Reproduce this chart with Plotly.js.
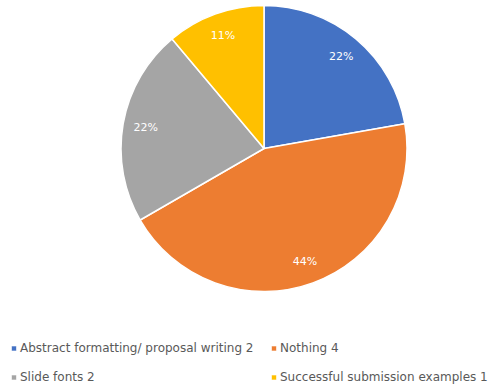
<!DOCTYPE html>
<html><head><meta charset="utf-8">
<script src="https://cdn.plot.ly/plotly-3.0.1.min.js"></script>
<style>html,body{margin:0;padding:0;background:#fff}</style>
</head><body>
<div id="chart" style="width:491px;height:387px"></div>
<script>
const categories = ["Abstract formatting/ proposal writing 2", "Nothing 4", "Slide fonts 2", "Successful submission examples 1"];
const counts = [2, 4, 2, 1];
const colors = ["#4472C4", "#ED7D31", "#A5A5A5", "#FFC000"];

const W = 491, H = 387;
const dom = {x: [121/W, 407/W], y: [1 - 292/H, 1 - 5/H]};
const fill = {
  type: "pie",
  labels: categories,
  values: counts,
  sort: false,
  direction: "clockwise",
  rotation: 0,
  marker: {colors: colors, line: {color: "#ffffff", width: 1.5}},
  textinfo: "none",
  hoverinfo: "none",
  domain: dom
};
const labelsRing = {
  type: "pie",
  labels: categories,
  values: counts,
  sort: false,
  direction: "clockwise",
  rotation: 0,
  hole: 0.68,
  showlegend: false,
  marker: {colors: ["rgba(0,0,0,0)","rgba(0,0,0,0)","rgba(0,0,0,0)","rgba(0,0,0,0)"], line: {width: 0}},
  texttemplate: "%{percent:.0%}",
  textposition: "inside",
  insidetextorientation: "horizontal",
  textfont: {family: "DejaVu Sans, sans-serif", size: 11, color: "#ffffff"},
  hoverinfo: "none",
  domain: dom
};
const layout = {
  width: W, height: H,
  margin: {l: 0, r: 0, t: 0, b: 0},
  paper_bgcolor: "#ffffff",
  showlegend: true,
  legend: {
    orientation: "h",
    x: 0, xanchor: "left",
    y: 1 - 336/H, yanchor: "top",
    entrywidth: 0.5, entrywidthmode: "fraction",
    itemwidth: 30,
    tracegroupgap: 0,
    font: {family: "DejaVu Sans, sans-serif", size: 12, color: "#595959"}
  }
};
Plotly.newPlot("chart", [fill, labelsRing], layout, {staticPlot: true, displayModeBar: false}).then(function(gd){
  const items = Array.from(gd.querySelectorAll(".legend .traces"));
  const parse = function(g){
    const m = /translate\(([-\d.]+),\s*([-\d.]+)\)/.exec(g.getAttribute("transform") || "");
    return m ? [parseFloat(m[1]), parseFloat(m[2])] : [0, 0];
  };
  const base = parse(items[0]);
  items.forEach(function(g, i){
    const col = i % 2, row = Math.floor(i / 2);
    g.setAttribute("transform", "translate(" + (base[0] + col * 260) + "," + (base[1] + row * 29) + ")");
  });
  const t0 = items[0].querySelector("text.legendtext").getBoundingClientRect();
  const sx = 20 - t0.left, sy = 348 - (t0.top + t0.height / 2);
  items.forEach(function(g){
    const p = parse(g);
    g.setAttribute("transform", "translate(" + (p[0] + sx) + "," + (p[1] + sy) + ")");
  });
  items.forEach(function(g){
    const path = g.querySelector(".legendpoints path");
    if (!path) return;
    path.setAttribute("transform", "scale(0.42)");
    const tb = g.querySelector("text.legendtext").getBoundingClientRect();
    const pb = path.getBoundingClientRect();
    const dx = (tb.left - 6) - (pb.left + pb.width / 2);
    const dy = (tb.top + tb.height / 2 + 0.5) - (pb.top + pb.height / 2);
    path.setAttribute("transform", "translate(" + dx + "," + dy + ") scale(0.42)");
  });
});
</script>
</body></html>
